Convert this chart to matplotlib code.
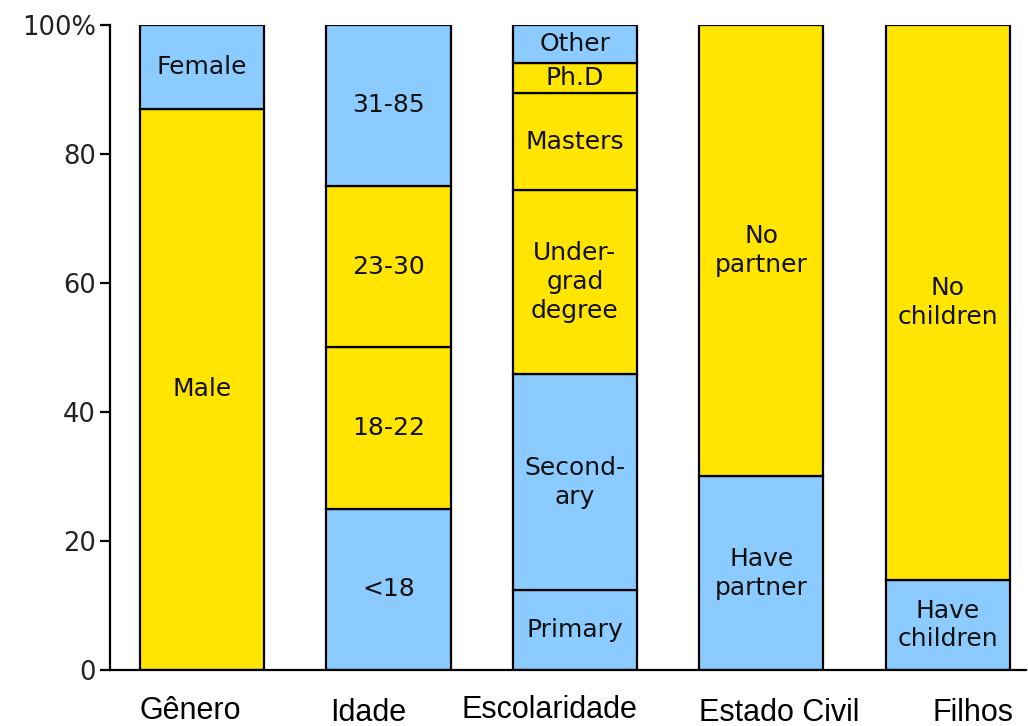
import matplotlib.pyplot as plt
import matplotlib.transforms as mtransforms
import numpy as np

categories = ['Gênero', 'Idade', 'Escolaridade', 'Estado Civil', 'Filhos']

# stacked segments per category, bottom to top: (label, percent, kind)
segments = [
    [('Male', 87.0, 'y'), ('Female', 13.0, 'b')],
    [('<18', 25.0, 'b'), ('18-22', 25.0, 'y'), ('23-30', 25.0, 'y'), ('31-85', 25.0, 'b')],
    [('Primary', 12.4, 'b'), ('Second-\nary', 33.4, 'b'), ('Under-\ngrad\ndegree', 28.6, 'y'),
     ('Masters', 15.0, 'y'), ('Ph.D', 4.7, 'y'), ('Other', 5.9, 'b')],
    [('Have\npartner', 30.0, 'b'), ('No\npartner', 70.0, 'y')],
    [('Have\nchildren', 14.0, 'b'), ('No\nchildren', 86.0, 'y')],
]

yticks = [0, 20, 40, 60, 80, 100]
ytick_labels = ['0', '20', '40', '60', '80', '100%']

colors = {'y': '#FFE500', 'b': '#8CCBFF'}

fig = plt.figure(figsize=(10.28, 7.26), dpi=100)
ax = fig.add_axes([0.107, 0.077, 0.891, 0.889])

x = np.arange(len(categories))
for i, segs in enumerate(segments):
    bottom = 0.0
    for label, val, kind in segs:
        ax.bar(x[i], val, bottom=bottom, width=0.666, color=colors[kind],
               edgecolor='black', linewidth=1.6, zorder=2)
        ax.text(x[i], bottom + val / 2, label, ha='center', va='center',
                fontsize=18, family='DejaVu Sans', color='#111111',
                linespacing=1.25, zorder=3)
        bottom += val

ax.set_xlim(-0.494, 4.42)
ax.set_ylim(0, 100)
ax.set_yticks(yticks)
ax.set_yticklabels(ytick_labels, fontsize=18.5, color='#222222')
ax.tick_params(axis='y', length=7, width=1.6, pad=3)
ax.set_xticks(x)
ax.set_xticklabels(categories, fontsize=22, family='Liberation Sans')
ax.tick_params(axis='x', length=0, pad=20)

# category labels sit a little off the bar centres in the original
nudges = [(-12, 2), (-20, 0), (-25, 3), (18, 0), (25, 0)]
for lbl, (dx, dy) in zip(ax.get_xticklabels(), nudges):
    off = mtransforms.ScaledTranslation(dx / 100, dy / 100, fig.dpi_scale_trans)
    lbl.set_transform(lbl.get_transform() + off)

for side in ['top', 'right']:
    ax.spines[side].set_visible(False)
for side in ['left', 'bottom']:
    ax.spines[side].set_linewidth(1.6)

fig.savefig('out.png', dpi=100)
